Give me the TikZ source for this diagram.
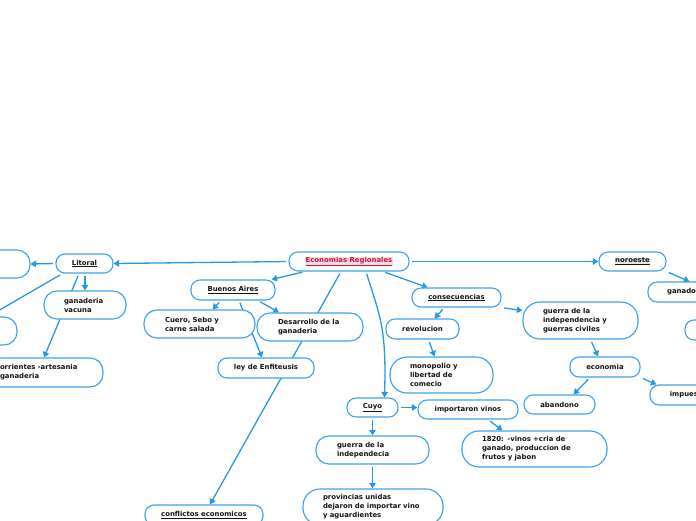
\documentclass[tikz,border=0pt]{standalone}
\usepackage{fontspec}
\setmainfont{DejaVu Sans}
\usetikzlibrary{arrows.meta,backgrounds}
\definecolor{edge}{RGB}{41,152,224}
\definecolor{bord}{RGB}{62,164,232}
\definecolor{txt}{RGB}{20,20,20}
\definecolor{ttl}{RGB}{205,20,60}
\definecolor{hl}{RGB}{230,230,230}
\definecolor{hlr}{RGB}{240,222,228}
\newcommand\fsz{\fontsize{6.9}{8.9}\selectfont\bfseries}
\newcommand\hlt[2]{{\setlength\fboxsep{0.5pt}\colorbox{#1}{#2}}}
\begin{document}
\begin{tikzpicture}[x=1pt,y=-1pt,
  sb/.style={draw=bord,line width=1.15pt,fill=white,rounded corners=9pt,minimum height=19pt,inner sep=0pt,font=\fsz,text=txt},
  mb/.style={draw=bord,line width=1.15pt,fill=white,inner ysep=0pt,align=left,font=\fsz,text=txt},
  con/.style={draw=edge,line width=1.3pt,-{Triangle[length=5.5pt,width=6.5pt]},shorten <=2.5pt}]
\useasboundingbox (0,0) rectangle (696,520);
% nodes
\node[sb, minimum width=120pt, text=ttl] (er) at (349,261.5) {\hlt{hlr}{\underline{Economias Regionales}}};
\node[sb, minimum width=57pt] (lit) at (84.5,263.5) {\underline{Litoral}};
\node[sb, minimum width=70pt, minimum height=28pt, rounded corners=13pt] (l1) at (-5,264) {};
\node[sb, minimum width=57pt, minimum height=28pt, rounded corners=13pt] (l2) at (-11.5,331) {};
\node[mb, text width=42pt, inner xsep=20pt, minimum height=28pt, rounded corners=13pt] (gv) at (85,305) {ganaderia\\vacuna};
\node[mb, text width=83pt, inner xsep=20pt, minimum height=29pt, rounded corners=13pt] (corr) at (41.5,372.5) {orrientes -artesania\\ganaderia};
\node[sb, minimum width=84pt, minimum height=20pt] (ba) at (233,290) {\underline{Buenos Aires}};
\node[mb, text width=69pt, inner xsep=21pt, minimum height=28pt, rounded corners=13pt] (cuero) at (199.5,324) {Cuero, Sebo y\\carne salada};
\node[mb, text width=64pt, inner xsep=21pt, minimum height=28pt, rounded corners=13pt] (des) at (310,327) {Desarrollo de la\\ganaderia};
\node[sb, minimum width=96pt, minimum height=20pt] (ley) at (266,368) {ley de Enfiteusis};
\node[sb, minimum width=118pt, minimum height=20pt] (conf) at (204,515) {\underline{conflictos economicos}};
\node[sb, minimum width=51pt] (cuyo) at (372.5,407.5) {\underline{Cuyo}};
\node[sb, minimum width=100pt] (impv) at (468,409.5) {importaron vinos};
\node[mb, text width=71pt, inner xsep=21pt, minimum height=28pt, rounded corners=13pt] (gi) at (372.5,450) {guerra de la\\independecia};
\node[mb, text width=100pt, inner xsep=20pt, minimum height=36pt, rounded corners=17pt] (prov) at (373,507) {provincias unidas\\dejaron de importar vino\\y aguardientes};
\node[mb, text width=105pt, inner xsep=20pt, minimum height=36pt, rounded corners=17pt] (v1820) at (534.5,449) {1820: -vinos +cria de\\ganado, produccion de\\frutos y jabon};
\node[sb, minimum width=89pt] (cons) at (456.5,297.5) {\underline{consecuencias}};
\node[sb, minimum width=73pt, minimum height=20pt] (rev) at (422.5,329) {revolucion};
\node[mb, text width=63pt, inner xsep=20pt, minimum height=36pt, rounded corners=17pt] (mono) at (441.5,375) {monopolio y\\libertad de\\comecio};
\node[mb, text width=75pt, inner xsep=20pt, minimum height=37pt, rounded corners=17pt] (gc) at (580.5,320.5) {guerra de la\\independencia y\\guerras civiles};
\node[sb, minimum width=70pt, minimum height=20pt] (eco) at (605,367) {economia};
\node[sb, minimum width=71pt] (aband) at (559.5,404.5) {abandono};
\node[sb, minimum width=80pt, minimum height=20pt] (impu) at (690,395) {impuestos};
\node[sb, minimum width=67pt] (nor) at (632.5,261.5) {\hlt{hl}{\underline{noroeste}}};
\node[sb, minimum width=67pt, minimum height=20pt] (gan) at (681.5,292) {ganado};
\node[sb, minimum width=60pt, minimum height=20pt] (r3) at (715,330) {};
% connectors
\begin{scope}[on background layer]
\draw[con] (er.west) -- (lit.east);
\draw[con] (lit.west) -- (l1.east);
\draw[con] ([xshift=7pt]lit.south west) -- (l2.north);
\draw[con] ([xshift=0.5pt]lit.south) -- (gv.north);
\draw[con] ([xshift=-5.5pt]lit.south) -- ([xshift=2.5pt]corr.north);
\draw[con] ([xshift=-44pt]er.south) -- ([xshift=-4pt]ba.north east);
\draw[con] ([xshift=-8pt]er.south) -- ([xshift=6pt]conf.north);
\draw[con] ([xshift=17pt]er.south) .. controls +(14,45) and +(2,-70) .. ([xshift=12pt]cuyo.north);
\draw[con] ([xshift=34pt]er.south) -- ([xshift=-29pt]cons.north);
\draw[con] (er.east) -- (nor.west);
\draw[con] ([xshift=-12pt]ba.south) -- ([xshift=13pt]cuero.north);
\draw[con] ([xshift=6pt]ba.south) -- ([xshift=-4pt]ley.north);
\draw[con] ([xshift=25pt]ba.south) -- ([xshift=-31pt]des.north);
\draw[con] ([xshift=-12pt]cons.south) -- ([xshift=12pt]rev.north);
\draw[con] (cons.south east) -- ([yshift=10pt]gc.west);
\draw[con] ([xshift=6pt]rev.south) -- ([xshift=-7pt]mono.north);
\draw[con] ([xshift=10pt]gc.south) -- ([xshift=-7pt]eco.north);
\draw[con] ([xshift=-15pt]eco.south) -- ([xshift=14pt]aband.north);
\draw[con] (eco.south east) -- ([xshift=7pt]impu.north west);
\draw[con] (nor.south east) -- ([xshift=42pt]gan.north west);
\draw[con] (cuyo.east) -- (cuyo.east -| impv.west);
\draw[con] (cuyo.south) -- (gi.north);
\draw[con] (gi.south) -- (gi.south |- prov.north);
\draw[con] ([xshift=20pt]impv.south) -- ([xshift=-32pt]v1820.north);
\end{scope}
\end{tikzpicture}
\end{document}
